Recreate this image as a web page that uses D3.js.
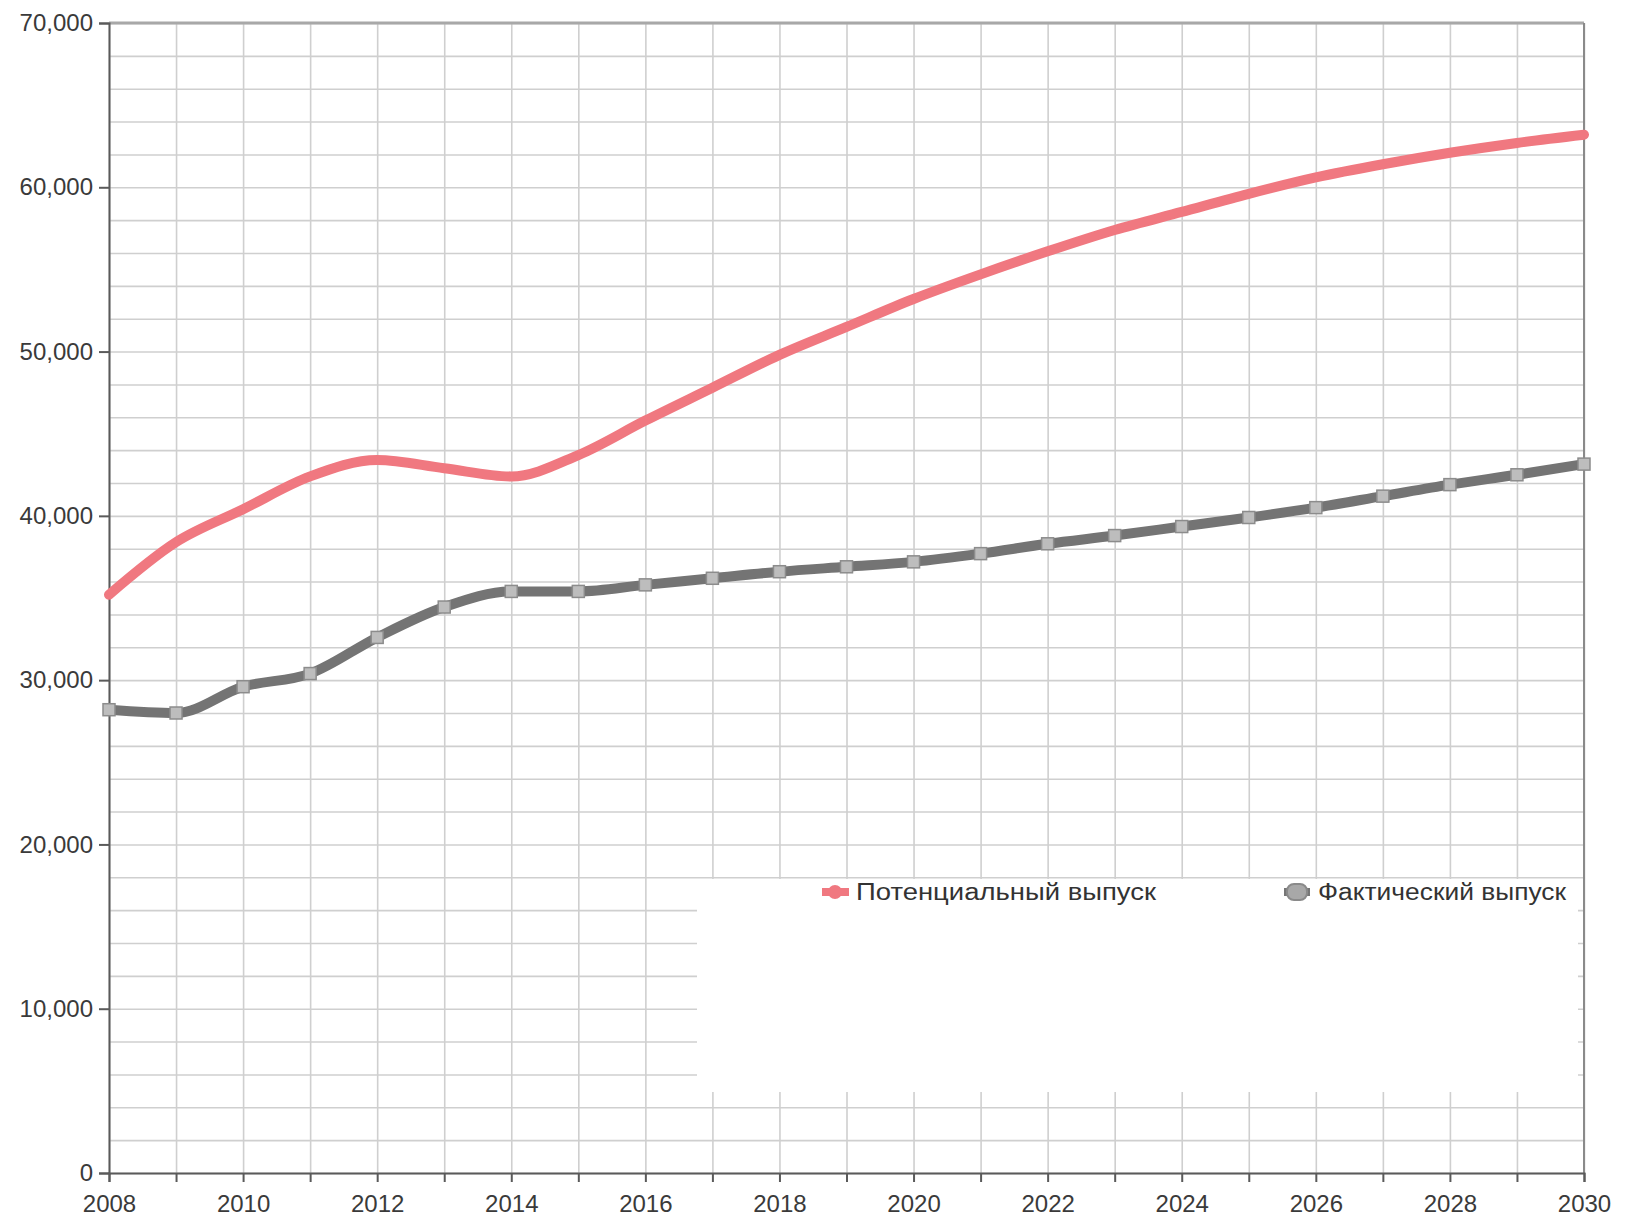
<html>
<head>
<meta charset="utf-8">
<style>
    body { margin: 0; background: #fff; }
    text { font-family: "Liberation Sans", Arial, sans-serif; }
    .grid line { stroke: #cfcfcf; stroke-width: 1.6; }
    .grid path { display: none; }
    .axis path, .axis line { stroke: #5a5a5a; stroke-width: 2; }
    .axis text { fill: #3a3a3a; font-size: 24px; }
</style>
</head>
<script src="https://cdnjs.cloudflare.com/ajax/libs/d3/7.8.5/d3.min.js"></script>
<body>
    <svg id="chart"></svg>
</body>
<script>
    let years = d3.range(2008, 2031);
    let potential = [35.2, 38.4, 40.4, 42.4, 43.4, 42.9, 42.4, 43.7, 45.8, 47.8, 49.8, 51.5,
                     53.2, 54.7, 56.1, 57.4, 58.5, 59.6, 60.6, 61.4, 62.1, 62.7, 63.2].map(v => v * 1000);
    let actual = [28.2, 28.0, 29.6, 30.4, 32.6, 34.45, 35.4, 35.4, 35.8, 36.2, 36.6, 36.9,
                  37.2, 37.7, 38.3, 38.8, 39.35, 39.9, 40.5, 41.2, 41.9, 42.5, 43.15].map(v => v * 1000);
    let yTicks = [0, 10000, 20000, 30000, 40000, 50000, 60000, 70000];
    let xTicks = d3.range(2008, 2031, 2);
    let seriesNames = ['Потенциальный  выпуск', 'Фактический выпуск'];

    function getConfig(){
        let width = 1631;
        let height = 1220;
        let margin = { top: 23, bottom: 47, left: 109, right: 47 }
        let bodyWidth = width - margin.left - margin.right
        let bodyHeight = height - margin.top - margin.bottom
        let container = d3.select('#chart')
            .attr('width', width)
            .attr('height', height)
        return { width, height, margin, bodyWidth, bodyHeight, container }
    }

    function getScales(config){
        let xScale = d3.scaleLinear()
            .domain([2008, 2030])
            .range([0, config.bodyWidth])
        let yScale = d3.scaleLinear()
            .domain([0, 70000])
            .range([config.bodyHeight, 0])
        return { xScale, yScale }
    }

    function drawGrid(scales, config){
        let {xScale, yScale} = scales;
        let {container, margin, bodyWidth, bodyHeight} = config;
        let g = container.append('g')
            .attr('transform', `translate(${margin.left},${margin.top})`)

        g.append('g').attr('class', 'grid')
            .call(d3.axisBottom(xScale).tickValues(years).tickSize(bodyHeight).tickFormat(''))
        g.append('g').attr('class', 'grid')
            .call(d3.axisLeft(yScale).tickValues(d3.range(0, 70001, 2000)).tickSize(-bodyWidth).tickFormat(''))

        // top and right frame
        g.append('line').attr('x1', 0).attr('x2', bodyWidth).attr('y1', 0).attr('y2', 0)
            .attr('stroke', '#a8a8a8').attr('stroke-width', 3)
        g.append('line').attr('x1', bodyWidth).attr('x2', bodyWidth).attr('y1', 0).attr('y2', bodyHeight)
            .attr('stroke', '#8a8a8a').attr('stroke-width', 2)
    }

    function drawAxes(scales, config){
        let {xScale, yScale} = scales;
        let {container, margin, bodyHeight} = config;

        let axisX = d3.axisBottom(xScale).tickValues(years).tickSize(9).tickPadding(13)
            .tickFormat(d => xTicks.includes(d) ? d : '')
        container.append('g').attr('class', 'axis')
            .attr('transform', `translate(${margin.left},${margin.top + bodyHeight})`)
            .call(axisX)

        let axisY = d3.axisLeft(yScale).tickValues(yTicks).tickSize(10).tickPadding(6)
            .tickFormat(d3.format(','))
        container.append('g').attr('class', 'axis')
            .attr('transform', `translate(${margin.left},${margin.top})`)
            .call(axisY)
    }

    function drawLines(scales, config){
        let {xScale, yScale} = scales;
        let {container, margin} = config;
        let body = container.append('g')
            .attr('transform', `translate(${margin.left},${margin.top})`)

        let line = d3.line()
            .x((d, i) => xScale(years[i]))
            .y(d => yScale(d))
            .curve(d3.curveMonotoneX)

        body.append('path').datum(potential)
            .attr('d', line)
            .attr('fill', 'none').attr('stroke', '#f07880').attr('stroke-width', 10)
            .attr('stroke-linecap', 'round')

        body.append('path').datum(actual)
            .attr('d', line)
            .attr('fill', 'none').attr('stroke', '#747474').attr('stroke-width', 10)

        body.selectAll('.pt').data(actual).enter().append('rect')
            .attr('x', (d, i) => xScale(years[i]) - 6)
            .attr('y', d => yScale(d) - 6)
            .attr('width', 12).attr('height', 12)
            .attr('fill', '#bdbdbd').attr('stroke', '#8c8c8c').attr('stroke-width', 1.5)
    }

    function drawLegend(config){
        let {container} = config;
        let g = container.append('g')
        g.append('rect')
            .attr('x', 697).attr('y', 879).attr('width', 881).attr('height', 213)
            .attr('fill', '#fff')

        // potential
        g.append('line').attr('x1', 822).attr('x2', 849).attr('y1', 892).attr('y2', 892)
            .attr('stroke', '#f07880').attr('stroke-width', 8)
        g.append('circle').attr('cx', 835).attr('cy', 892).attr('r', 7).attr('fill', '#f07880')
        g.append('text').attr('x', 856).attr('y', 900)
            .attr('font-size', 23).attr('fill', '#333')
            .attr('textLength', 300).attr('lengthAdjust', 'spacingAndGlyphs')
            .text(seriesNames[0])

        // actual
        g.append('line').attr('x1', 1284).attr('x2', 1310).attr('y1', 892).attr('y2', 892)
            .attr('stroke', '#767676').attr('stroke-width', 8)
        g.append('rect').attr('x', 1287).attr('y', 884).attr('width', 20).attr('height', 16).attr('rx', 7)
            .attr('fill', '#a8a8a8').attr('stroke', '#8a8a8a').attr('stroke-width', 2)
        g.append('text').attr('x', 1318).attr('y', 900)
            .attr('font-size', 23).attr('fill', '#333')
            .attr('textLength', 248).attr('lengthAdjust', 'spacingAndGlyphs')
            .text(seriesNames[1])
    }

    let config = getConfig();
    let scales = getScales(config);
    drawGrid(scales, config);
    drawAxes(scales, config);
    drawLines(scales, config);
    drawLegend(config);
</script>
</html>
